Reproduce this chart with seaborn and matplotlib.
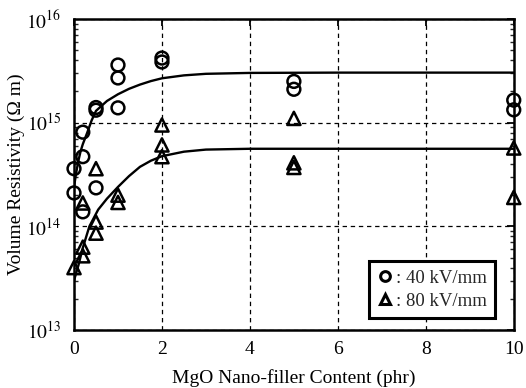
import numpy as np
import pandas as pd
import matplotlib
matplotlib.use("Agg")
import matplotlib.pyplot as plt
import seaborn as sns
from matplotlib.lines import Line2D
from matplotlib.ticker import LogLocator, FixedLocator

# ---- data ----
x40 = [0, 0, 0.2, 0.2, 0.2, 0.5, 0.5, 0.5, 1, 1, 1, 2, 2, 5, 5, 10, 10]
y40 = [3.6e14, 2.1e14, 8.1e14, 4.7e14, 1.38e14, 1.4e15, 1.32e15, 2.35e14,
       3.6e15, 2.7e15, 1.39e15, 4.2e15, 3.85e15, 2.5e15, 2.1e15, 1.65e15, 1.33e15]

x80 = [0, 0.2, 0.2, 0.2, 0.5, 0.5, 0.5, 1, 1, 2, 2, 2, 5, 5, 5, 10, 10]
y80 = [4.0e13, 6.3e13, 5.2e13, 1.68e14, 3.6e14, 1.1e14, 8.6e13, 2.0e14, 1.7e14,
       9.5e14, 6.1e14, 4.7e14, 1.1e15, 4.1e14, 3.7e14, 5.7e14, 1.9e14]

# fitted curves
xfit40 = [0.0, 0.05, 0.1, 0.15, 0.2, 0.3, 0.4, 0.5, 0.75, 1.0, 1.25, 1.5, 1.75, 2.0, 2.5, 3.0, 4.0, 6.0, 10.0]
yfit40 = [2.4e14, 3.3e14, 4.3e14, 5.3e14, 6.2e14, 8.0e14, 1.05e15, 1.3e15, 1.62e15, 1.88e15,
          2.12e15, 2.33e15, 2.52e15, 2.68e15, 2.86e15, 2.96e15, 3.02e15, 3.04e15, 3.04e15]

xfit80 = [0.0, 0.1, 0.2, 0.35, 0.55, 0.75, 1.0, 1.25, 1.5, 1.75, 2.0, 2.5, 3.0, 4.0, 6.0, 10.0]
yfit80 = [3.0e13, 4.2e13, 6.2e13, 1.0e14, 1.45e14, 1.85e14, 2.4e14, 3.05e14, 3.75e14,
          4.3e14, 4.75e14, 5.25e14, 5.5e14, 5.6e14, 5.6e14, 5.6e14]

xticks = [0, 2, 4, 6, 8, 10]
yticks = [1e13, 1e14, 1e15, 1e16]
ytick_labels = [r"$10^{13}$", r"$10^{14}$", r"$10^{15}$", r"$10^{16}$"]
legend_labels = [": 40 kV/mm", ": 80 kV/mm"]
xlabel = "MgO Nano-filler Content (phr)"
ylabel = "Volume Resistivity (\u03a9 m)"

# ---- styling ----
sns.set_theme(style="white")
plt.rcParams["font.family"] = ["Liberation Serif", "DejaVu Serif"]
plt.rcParams["mathtext.fontset"] = "stix"

fig = plt.figure(figsize=(5.26, 3.88), dpi=100)
ax = fig.add_axes([0.1407, 0.1495, 0.836, 0.8015])

df40 = pd.DataFrame({"x": x40, "y": y40})
df80 = pd.DataFrame({"x": x80, "y": y80})
dfit40 = pd.DataFrame({"x": xfit40, "y": yfit40})
dfit80 = pd.DataFrame({"x": xfit80, "y": yfit80})

ax.set_yscale("log")

sns.lineplot(data=dfit40, x="x", y="y", ax=ax, color="black", lw=1.7, sort=True, zorder=3)
sns.lineplot(data=dfit80, x="x", y="y", ax=ax, color="black", lw=1.7, sort=True, zorder=3)

sns.scatterplot(data=df40, x="x", y="y", ax=ax, marker="o", s=85,
                facecolors="none", edgecolor="black", linewidth=1.8, zorder=4, clip_on=False)
sns.scatterplot(data=df80, x="x", y="y", ax=ax, marker="^", s=90,
                facecolors="none", edgecolor="black", linewidth=1.8, zorder=4, clip_on=False)

ax.set_xlim(0, 10)
ax.set_ylim(1e13, 1e16)
ax.set_xticks(xticks)
ax.set_xticklabels([str(t) for t in xticks])
ax.yaxis.set_major_locator(FixedLocator(yticks))
ax.set_yticklabels(ytick_labels)
ax.yaxis.set_minor_locator(LogLocator(base=10, subs=np.arange(2, 10)))
ax.yaxis.set_minor_formatter(matplotlib.ticker.NullFormatter())

ax.grid(True, which="major", color="black", linestyle=(0, (3.5, 3)), linewidth=0.9)
ax.grid(False, which="minor")

ax.tick_params(axis="x", which="major", direction="in", length=5, width=1.3,
               top=True, labelsize=14, colors="black", pad=8)
ax.tick_params(axis="y", which="major", direction="in", length=5, width=1.3,
               right=True, labelsize=14, colors="black", pad=9)
ax.tick_params(axis="y", which="minor", direction="in", length=3, width=1.0,
               left=True, right=True)
for sp in ax.spines.values():
    sp.set_color("black")
    sp.set_linewidth(1.8)

ax.set_xlabel(xlabel, fontsize=14, color="black", labelpad=8)
ax.set_ylabel(ylabel, fontsize=14, color="black", labelpad=1)

handles = [
    Line2D([], [], marker="o", linestyle="none", markerfacecolor="none",
           markeredgecolor="black", markeredgewidth=2.2, markersize=7),
    Line2D([], [], marker="^", linestyle="none", markerfacecolor="none",
           markeredgecolor="black", markeredgewidth=2.2, markersize=7),
]
leg = ax.legend(handles, legend_labels, loc="lower right", bbox_to_anchor=(0.97, 0.02),
                fontsize=13.5, frameon=True, fancybox=False, edgecolor="black",
                handlelength=0.8, handletextpad=0.15, borderpad=0.45, labelspacing=0.3,
                borderaxespad=0.3)
leg.get_frame().set_linewidth(2.2)
leg.get_frame().set_facecolor("white")
leg.get_frame().set_alpha(1)
leg.set_zorder(10)

fig.savefig("out.png", dpi=100)
